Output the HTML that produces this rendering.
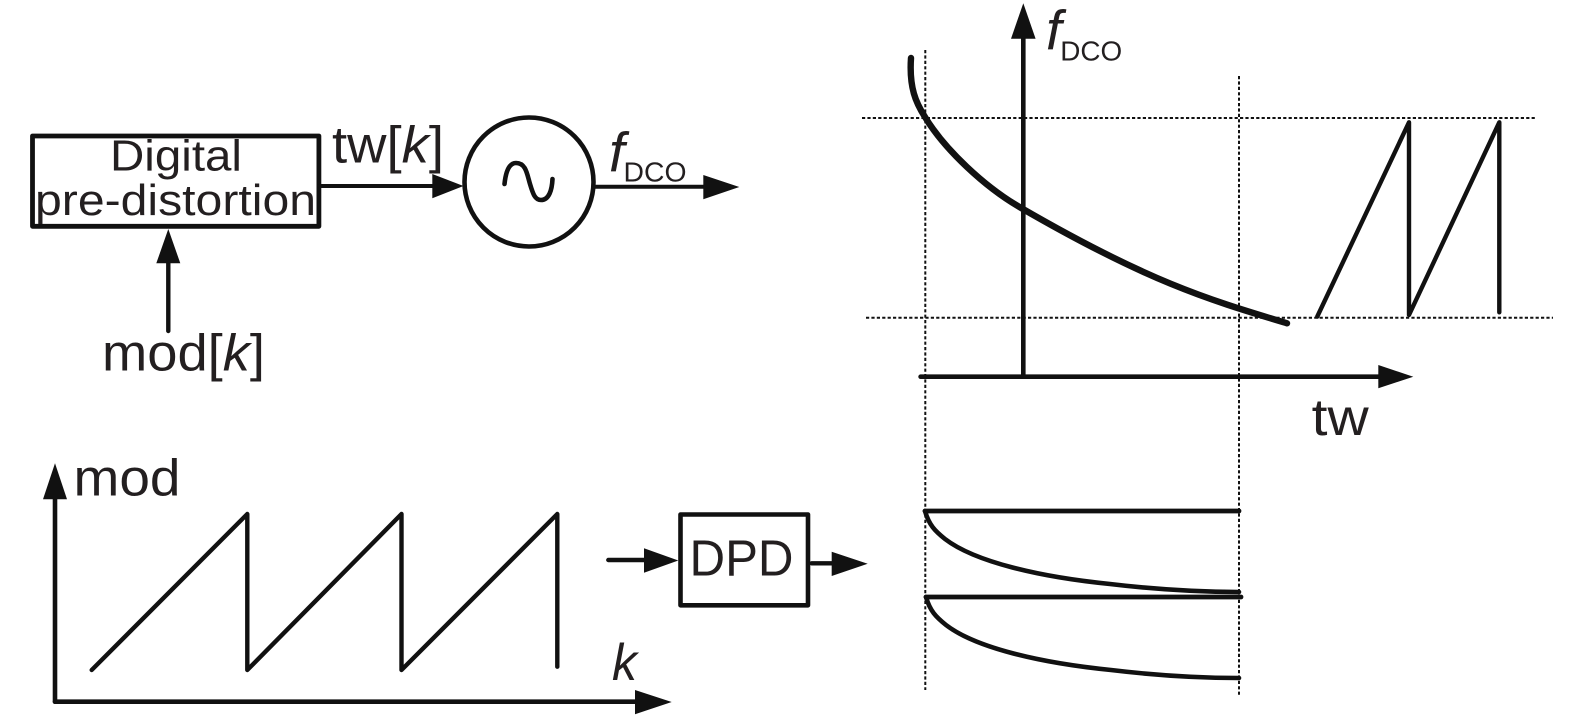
<!DOCTYPE html>
<html><head><meta charset="utf-8"><style>
html,body{margin:0;padding:0;background:#fff}
svg{display:block}
text{font-family:"Liberation Sans",sans-serif;fill:#231f20}
.i{font-style:italic}
</style></head><body>
<svg width="1575" height="720" viewBox="0 0 1575 720" xmlns="http://www.w3.org/2000/svg">
<g fill="none" stroke="#111" stroke-width="2" stroke-dasharray="3.2 2.2">
<line x1="925.3" y1="50" x2="925.3" y2="690"/>
<line x1="1239" y1="76" x2="1239" y2="696"/>
<line x1="862" y1="118" x2="1537" y2="118"/>
<line x1="866" y1="317.7" x2="1553" y2="317.7"/>
</g>
<g fill="none" stroke="#111" stroke-width="4.4" stroke-linecap="round" stroke-linejoin="round">
<rect x="32.5" y="136" width="286.4" height="90.3" stroke-width="4.8"/>
<circle cx="529" cy="182" r="64.5" stroke-width="4.6"/>
<line x1="319" y1="186" x2="436" y2="186" stroke-width="4"/>
<line x1="594" y1="186.7" x2="706" y2="186.7" stroke-width="4"/>
<line x1="168.3" y1="331" x2="168.3" y2="260"/>
<path d="M504.5 184C506 170 510 163 516 163C526 163 527 174 530 184C533 194 535 200 541 200C549 200 552 190 552.5 179" stroke-width="4.6"/>
<line x1="1023.3" y1="36" x2="1023.3" y2="376.7" stroke-width="4.6"/>
<line x1="920.6" y1="376.7" x2="1381" y2="376.7" stroke-width="4.6"/>
<path d="M911 58C909 88 916 103 925 117C945 150 985 187 1020 207.3C1150 282.7 1210 300 1287 323.3" stroke-width="6.4"/>
<path d="M1317.3 316.5L1409 122.3V315L1499.3 122.3V312.3" stroke-width="4.4"/>
<line x1="55" y1="497" x2="55" y2="701.7" stroke-width="4.6"/>
<line x1="55" y1="701.7" x2="638" y2="701.7" stroke-width="4.6"/>
<path d="M91.7 670L247.3 514V670L401.5 514V670L557.3 514V666.7" stroke-width="4.4"/>
<rect x="680.5" y="514.5" width="127.5" height="90.8" stroke-width="4.6"/>
<line x1="608.3" y1="560" x2="646" y2="560"/>
<line x1="811.7" y1="563.3" x2="834" y2="563.3"/>
<line x1="925" y1="511" x2="1239" y2="511" stroke-width="4.8"/>
<line x1="926" y1="597" x2="1241" y2="597" stroke-width="4.8"/>
<path d="M925 511C929 525 935 531 945 539C975 562 1040 577 1110 584C1160 590 1200 592 1239 592" stroke-width="4.6"/>
<path d="M926 597C930 611 936 617 946 625C976 648 1041 663 1111 670C1161 676 1201 678 1239 678" stroke-width="4.6"/>
</g>
<g fill="#111">
<polygon points="432.3,174 463.5,186 432.3,198.3"/>
<polygon points="703.3,175 739.3,187 703.3,199.3"/>
<polygon points="156.3,263.3 168.3,229 180.3,263.3"/>
<polygon points="1011,38.7 1023.3,3.3 1035.6,38.7"/>
<polygon points="1378.3,365 1413.3,376.7 1378.3,388.3"/>
<polygon points="43,499.3 55,463.3 67,499.3"/>
<polygon points="635,690 671.7,702 635,714.3"/>
<polygon points="644,548.3 678.3,560.5 644,572.7"/>
<polygon points="831.7,551.7 867.7,563.8 831.7,576"/>
</g>
<g font-size="44">
<text x="110" y="170.7" textLength="132" lengthAdjust="spacingAndGlyphs">Digital</text>
<text x="35" y="215" textLength="281" lengthAdjust="spacingAndGlyphs">pre-distortion</text>
<text x="332" y="162.7" font-size="52" textLength="112" lengthAdjust="spacingAndGlyphs">tw[<tspan class="i">k</tspan>]</text>
<text x="102" y="370.7" font-size="52" textLength="163" lengthAdjust="spacingAndGlyphs">mod[<tspan class="i">k</tspan>]</text>
<text x="609" y="171.7" font-size="56" class="i">f</text>
<text x="623.5" y="181.7" font-size="28" textLength="63" lengthAdjust="spacingAndGlyphs">DCO</text>
<text x="1046" y="49.3" font-size="56" class="i">f</text>
<text x="1060.2" y="60.7" font-size="28" textLength="62" lengthAdjust="spacingAndGlyphs">DCO</text>
<text x="1311.7" y="435" font-size="52" textLength="57" lengthAdjust="spacingAndGlyphs">tw</text>
<text x="73.5" y="495.7" font-size="52" textLength="107" lengthAdjust="spacingAndGlyphs">mod</text>
<text x="612" y="680" font-size="52" class="i" textLength="25" lengthAdjust="spacingAndGlyphs">k</text>
<text x="689.5" y="575.7" font-size="51" textLength="104" lengthAdjust="spacingAndGlyphs">DPD</text>
</g>
</svg>
</body></html>
